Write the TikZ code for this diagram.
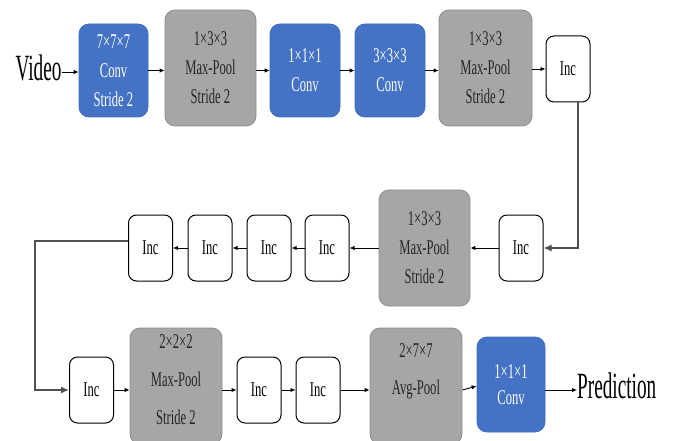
\documentclass[tikz,border=0pt]{standalone}
\usepackage{fontspec}
\usetikzlibrary{arrows.meta}
\newfontfamily\boxfont[FakeStretch=0.6]{Liberation Serif}
\newfontfamily\bigfont[FakeStretch=0.52]{Liberation Serif}
\definecolor{convblue}{HTML}{4472C4}
\definecolor{convedge}{HTML}{3F6BBD}
\definecolor{poolgray}{HTML}{A6A6A6}
\definecolor{pooledge}{HTML}{8C8C8C}
\definecolor{linkgray}{HTML}{505050}
\tikzset{
  lines/.style={font=\boxfont\fontsize{21}{#1}\selectfont},
  block/.style={rounded corners=10pt, align=center, inner sep=0pt, lines=29},
  convbox/.style={block, fill=convblue, draw=convedge, line width=0.8pt, text=white},
  poolbox/.style={block, fill=poolgray, draw=pooledge, line width=0.8pt, text=black!85},
  pooltext/.style={align=center, inner sep=0pt, text=black!85},
  incbox/.style={block, rounded corners=8pt, fill=white, draw=black, line width=1pt,
    minimum width=44pt, minimum height=66pt, text=black},
  arr/.style={line width=0.9pt, -{Latex[length=5pt,width=4.5pt]}},
  link/.style={draw=linkgray, line width=1.3pt, -{Latex[length=8pt,width=7pt]}},
  bigtext/.style={font=\bigfont\fontsize{37}{40}\selectfont, inner sep=0pt, text=black}
}
\begin{document}
\begin{tikzpicture}[x=1pt, y=-1pt]
\useasboundingbox (0,0) rectangle (675,441);
\clip (0,0) rectangle (675,441);

% first row
\node[bigtext] (video) at (38.5,68) {Video};
\node[convbox, minimum width=69pt, minimum height=93pt] (conv1) at (113.5,70.5) {7×7×7\\Conv\\Stride 2};
\node[poolbox, minimum width=91pt, minimum height=116pt] (pool1) at (210.5,68) {1×3×3\\Max-Pool\\Stride 2};
\node[convbox, minimum width=70pt, minimum height=93pt] (conv2) at (305,70.5) {1×1×1\\Conv};
\node[convbox, minimum width=70pt, minimum height=93pt] (conv3) at (390,70.5) {3×3×3\\Conv};
\node[poolbox, minimum width=93pt, minimum height=116pt] (pool2) at (485.5,68) {1×3×3\\Max-Pool\\Stride 2};
\node[incbox] (inc1) at (568,69) {Inc};

% second row, running right to left
\node[incbox] (inc2) at (521,248) {Inc};
\node[poolbox, minimum width=91pt, minimum height=116pt] (pool3) at (424.5,248) {1×3×3\\Max-Pool\\Stride 2};
\node[incbox] (inc3) at (327,248) {Inc};
\node[incbox] (inc4) at (269,248) {Inc};
\node[incbox] (inc5) at (210,248) {Inc};
\node[incbox] (inc6) at (150.5,248) {Inc};

% third row
\node[incbox] (inc7) at (91.5,390) {Inc};
\node[poolbox, minimum width=92pt, minimum height=116pt] (pool4) at (176,386) {};
\node[pooltext, lines=38] (pool4t) at (176,380) {2×2×2\\Max-Pool\\Stride 2};
\node[incbox] (inc8) at (259,390) {Inc};
\node[incbox] (inc9) at (318,390) {Inc};
\node[poolbox, minimum width=92pt, minimum height=116pt] (pool5) at (416,386) {};
\node[pooltext, lines=37] (pool5t) at (416,371.5) {2×7×7\\Avg-Pool};
\node[convbox, minimum width=68pt, minimum height=95pt, lines=26] (conv4) at (511,384.5) {1×1×1\\Conv};
\node[bigtext, anchor=west] (pred) at (577,386) {Prediction};

% routing points of the row-to-row links
\coordinate (turnR) at (578,248);
\coordinate (turnL) at (35,390);

% arrows of the first row
\draw[arr] ([yshift=-4pt]video.east) -- ([yshift=-4pt]video.east -| conv1.west);
\draw[arr] (conv1.east) -- (conv1.east -| pool1.west);
\draw[arr] (pool1.east |- conv2.west) -- (conv2.west);
\draw[arr] (conv2.east) -- (conv3.west);
\draw[arr] (conv3.east) -- (conv3.east -| pool2.west);
\draw[arr] (pool2.east |- inc1.west) -- (inc1.west);

% link down to the second row
\draw[link] (inc1.south -| turnR) -- (turnR) -- (inc2.east);

% arrows of the second row
\draw[arr] (inc2.west) -- (inc2.west -| pool3.east);
\draw[arr] (pool3.west) -- (pool3.west -| inc3.east);
\draw[arr] (inc3.west) -- (inc4.east);
\draw[arr] (inc4.west) -- (inc5.east);
\draw[arr] (inc5.west) -- (inc6.east);

% link down to the third row
\draw[link] ([yshift=7pt]inc6.west) -| (turnL) -- (inc7.west);

% arrows of the third row
\draw[arr] (inc7.east) -- (inc7.east -| pool4.west);
\draw[arr] (pool4.east |- inc8.west) -- (inc8.west);
\draw[arr] (inc8.east) -- (inc9.west);
\draw[arr] (inc9.east) -- (inc9.east -| pool5.west);
\draw[arr] (pool5.east |- inc9.east) -- (pool5.east -| conv4.west);
\draw[arr] (conv4.east |- inc9.east) -- (pred.west |- inc9.east);
\end{tikzpicture}
\end{document}
